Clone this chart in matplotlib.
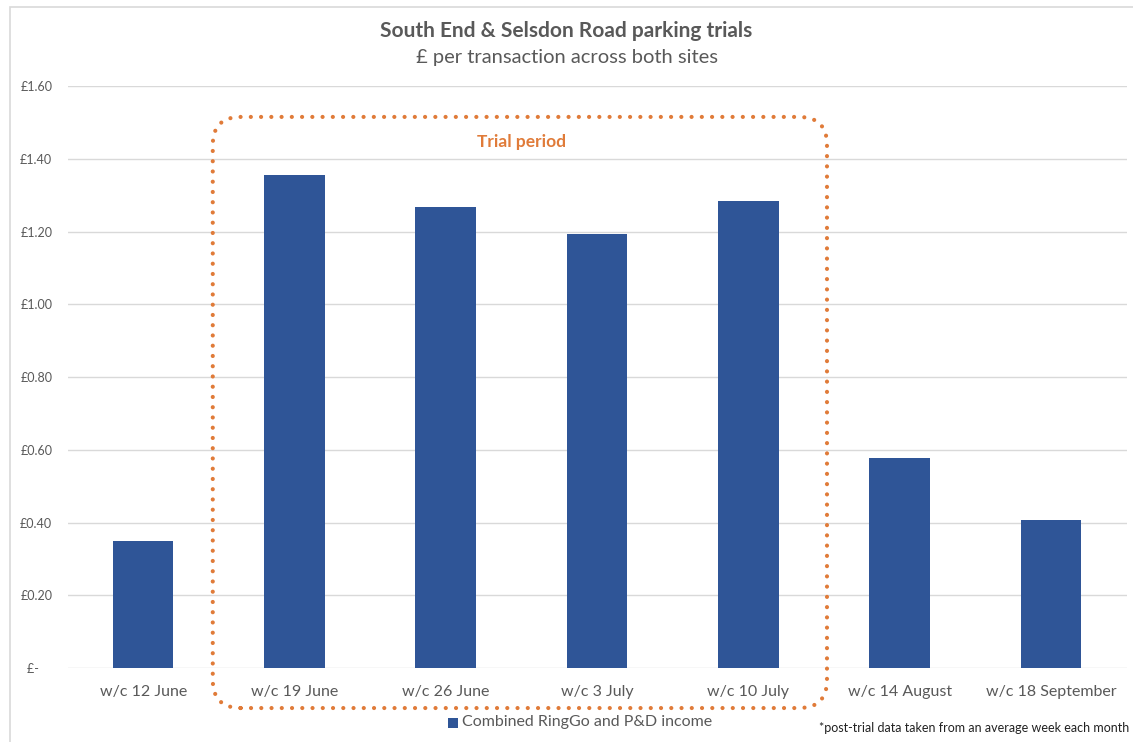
import matplotlib.pyplot as plt
from matplotlib.patches import FancyBboxPatch, Rectangle
from matplotlib.transforms import IdentityTransform

plt.rcParams['font.family'] = ['Lato', 'DejaVu Sans']

# --- weekly figures, £ per transaction ---
weeks = ['w/c 12 June', 'w/c 19 June', 'w/c 26 June', 'w/c 3 July',
         'w/c 10 July', 'w/c 14 August', 'w/c 18 September']
income = [0.35, 1.355, 1.267, 1.193, 1.284, 0.577, 0.407]
y_ticks = [0.0, 0.2, 0.4, 0.6, 0.8, 1.0, 1.2, 1.4, 1.6]
y_labels = ['£-    ', '£0.20', '£0.40', '£0.60', '£0.80', '£1.00', '£1.20', '£1.40', '£1.60']
trial_weeks = ['w/c 19 June', 'w/c 10 July']  # first and last week of the trial

BAR = '#2F5597'
GREY = '#595959'
ORANGE = '#E07B39'

fig = plt.figure(figsize=(11.33, 7.42), dpi=100)
ax = fig.add_axes([0.0596, 0.0997, 0.9347, 0.7844])

x = range(len(weeks))
ax.bar(x, income, width=0.4, color=BAR, zorder=3, label='Combined RingGo and P&D income')

ax.set_xlim(-0.5, len(weeks) - 0.5)
ax.set_ylim(0, 1.6)
ax.set_yticks(y_ticks)
ax.set_yticklabels(y_labels)
ax.set_xticks(list(x))
ax.set_xticklabels(weeks)
ax.tick_params(axis='x', length=0, pad=12.5, labelsize=11.5, labelcolor=GREY)
ax.tick_params(axis='y', length=0, pad=11, labelsize=9, labelcolor=GREY)
ax.grid(axis='y', color='#D9D9D9', linewidth=1, zorder=0)
for s in ax.spines.values():
    s.set_visible(False)

# titles
fig.text(0.5, 0.958, 'South End & Selsdon Road parking trials', ha='center', va='center',
         fontsize=15, fontweight='bold', color=GREY)
fig.text(0.5, 0.922, '£ per transaction across both sites', ha='center', va='center',
         fontsize=14.5, color=GREY)

# dotted rounded box around the trial weeks, drawn in pixel space
fig.canvas.draw()
i0, i1 = weeks.index(trial_weeks[0]), weeks.index(trial_weeks[1])
x0, y0 = ax.transData.transform((i0 - 0.54, -0.11))
x1, y1 = ax.transData.transform((i1 + 0.52, 1.515))
box = FancyBboxPatch((x0, y0), x1 - x0, y1 - y0,
                     boxstyle='round,pad=0,rounding_size=28',
                     transform=IdentityTransform(), fill=False,
                     edgecolor=ORANGE, linewidth=3.0,
                     linestyle=(0, (0.01, 2.45)), capstyle='round',
                     clip_on=False, zorder=5)
fig.add_artist(box)
ax.text((i0 + i1) / 2, 1.447, 'Trial period', ha='center', va='center',
        fontsize=12.5, fontweight='bold', color=ORANGE)

# legend
fig.patches.append(Rectangle((0.3955, 0.0195), 0.0085, 0.0135, transform=fig.transFigure,
                             facecolor=BAR, edgecolor='none', figure=fig))
fig.text(0.4075, 0.0265, 'Combined RingGo and P&D income', ha='left', va='center',
         fontsize=11.5, color=GREY)
fig.text(0.997, 0.0185, '*post-trial data taken from an average week each month',
         ha='right', va='center', fontsize=9, color='#222222')

# light frame round the chart
fig.patches.append(Rectangle((0.009, -0.01), 0.995, 1.0, transform=fig.transFigure,
                             fill=False, edgecolor='#D9D9D9', linewidth=1.2, figure=fig))

fig.savefig('out.png', dpi=100, facecolor='white')
